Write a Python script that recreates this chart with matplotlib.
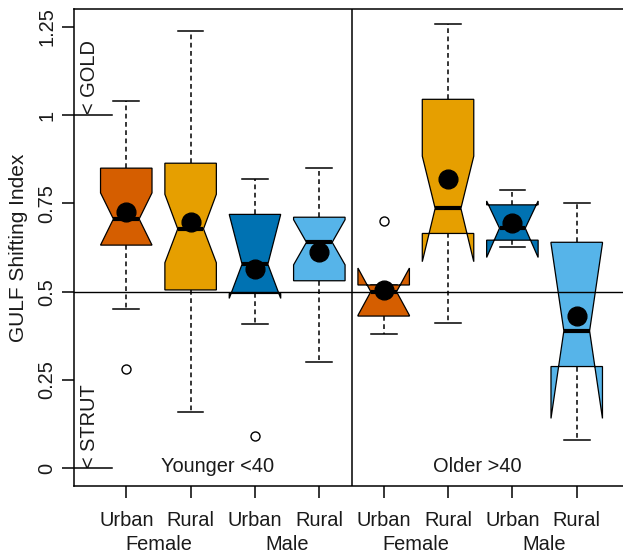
import matplotlib
matplotlib.use("Agg")
import matplotlib.pyplot as plt
from matplotlib.patches import Polygon
from matplotlib.transforms import blended_transform_factory

plt.rcParams['font.family'] = ['Liberation Sans', 'DejaVu Sans']

# Box statistics for the eight groups (position 1..8)
locations = ["Urban", "Rural", "Urban", "Rural", "Urban", "Rural", "Urban", "Rural"]
sexes = ["Female", "Male", "Female", "Male"]
age_groups = ["Younger <40", "Older >40"]
colors = ["#D55E00", "#E69F00", "#0072B2", "#56B4E9"] * 2

q1 = [0.632, 0.505, 0.495, 0.531, 0.431, 0.665, 0.646, 0.288]
median = [0.706, 0.678, 0.578, 0.640, 0.500, 0.736, 0.680, 0.389]
q3 = [0.850, 0.864, 0.719, 0.711, 0.519, 1.045, 0.746, 0.640]
notch_lo = [0.632, 0.582, 0.481, 0.576, 0.433, 0.585, 0.597, 0.141]
notch_hi = [0.780, 0.776, 0.719, 0.704, 0.567, 0.884, 0.757, 0.637]
whisker_lo = [0.451, 0.160, 0.408, 0.300, 0.380, 0.410, 0.627, 0.080]
whisker_hi = [1.041, 1.239, 0.820, 0.850, 0.519, 1.258, 0.788, 0.750]
means = [0.725, 0.698, 0.564, 0.612, 0.505, 0.818, 0.695, 0.431]
outlier_pos = [1, 3, 5]
outlier_val = [0.280, 0.091, 0.701]

yticks = [0, 0.25, 0.5, 0.75, 1, 1.25]
ytick_labels = ["0", "0.25", "0.5", "0.75", "1", "1.25"]

W, H, DPI = 623, 555, 100
fig = plt.figure(figsize=(W / DPI, H / DPI), dpi=DPI)
ax = fig.add_axes([73.5 / W, 1 - 485.85 / H, 556.0 / W, 476.55 / H])
ax.set_xlim(0.18, 8.82)
ax.set_ylim(-0.05, 1.30)

txt = "#1a1a1a"
fs = 14.4
half = 0.4      # half box width
nf = 0.5        # notch fraction
cap = 0.2       # half staple width

for i in range(8):
    x = i + 1
    # whiskers
    ax.plot([x, x], [q3[i], whisker_hi[i]], color="black", lw=1.1,
            linestyle=(0, (3.1, 2.3)), zorder=2)
    ax.plot([x, x], [q1[i], whisker_lo[i]], color="black", lw=1.1,
            linestyle=(0, (3.1, 2.3)), zorder=2)
    ax.plot([x - cap, x + cap], [whisker_hi[i]] * 2, color="black", lw=1.1, zorder=2)
    ax.plot([x - cap, x + cap], [whisker_lo[i]] * 2, color="black", lw=1.1, zorder=2)
    # notched box
    xs = [x - half, x - half, x - half * nf, x - half, x - half,
          x + half, x + half, x + half * nf, x + half, x + half]
    ys = [q1[i], notch_lo[i], median[i], notch_hi[i], q3[i],
          q3[i], notch_hi[i], median[i], notch_lo[i], q1[i]]
    ax.add_patch(Polygon(list(zip(xs, ys)), closed=True, facecolor=colors[i],
                         edgecolor="black", lw=0.9, zorder=3))
    # median
    ax.plot([x - half * nf, x + half * nf], [median[i]] * 2, color="black",
            lw=3.0, solid_capstyle="butt", zorder=4)

# outliers
ax.plot(outlier_pos, outlier_val, linestyle="none", marker="o", ms=6.5,
        mfc="white", mec="black", mew=1.0, zorder=4)

# reference lines
ax.axhline(0.5, color="black", lw=1.0, zorder=5)
ax.axvline(4.5, color="black", lw=1.1, zorder=5)
ax.plot([0.18, 0.78], [1, 1], color="black", lw=1.1, zorder=5)
ax.plot([0.18, 0.78], [0, 0], color="black", lw=1.1, zorder=5)

# means
ax.plot(range(1, 9), means, linestyle="none", marker="o", ms=13.5,
        color="black", zorder=6)

# annotations
ax.text(0.514, 1.003, "< GOLD", rotation=90, rotation_mode="anchor",
        ha="left", va="baseline", fontsize=fs, color=txt)
ax.text(0.514, 0.0, "< STRUT", rotation=90, rotation_mode="anchor",
        ha="left", va="baseline", fontsize=fs, color=txt)
ax.text(2.414, -0.0099, age_groups[0], ha="center", va="baseline",
        fontsize=fs, color=txt)
ax.text(6.458, -0.0099, age_groups[1], ha="center", va="baseline",
        fontsize=fs, color=txt)

# spines and ticks
for s in ["left", "bottom", "top"]:
    ax.spines[s].set_linewidth(1.1)
ax.spines["right"].set_visible(False)
ax.set_xticks(range(1, 9))
ax.set_xticklabels([])
ax.set_yticks(yticks)
ax.set_yticklabels([])
ax.tick_params(direction="out", length=8.6, width=1.1, color="black")

# y tick labels (rotated)
ytr = blended_transform_factory(ax.transAxes, ax.transData)
for v, lab in zip(yticks, ytick_labels):
    ax.annotate(lab, xy=(0, v), xycoords=ytr, xytext=(-15.3, 0),
                textcoords="offset points", rotation=90, rotation_mode="anchor",
                ha="center", va="baseline", fontsize=fs, color=txt,
                annotation_clip=False)

# x tick labels on two lines
xtr = blended_transform_factory(ax.transData, ax.transAxes)
for i, lab in enumerate(locations):
    ax.annotate(lab, xy=(i + 1, 0), xycoords=xtr, xytext=(0, -28.9),
                textcoords="offset points", ha="center", va="baseline",
                fontsize=fs, color=txt, annotation_clip=False)
for j, lab in enumerate(sexes):
    ax.annotate(lab, xy=(2 * j + 1.5, 0), xycoords=xtr, xytext=(0, -46.2),
                textcoords="offset points", ha="center", va="baseline",
                fontsize=fs, color=txt, annotation_clip=False)

# y axis title
ax.annotate("GULF Shifting Index", xy=(0, 0.5), xycoords="axes fraction",
            xytext=(-35.6, 0), textcoords="offset points", rotation=90,
            rotation_mode="anchor", ha="center", va="baseline",
            fontsize=15.0, color=txt, annotation_clip=False)

fig.savefig("out.png", dpi=DPI)
